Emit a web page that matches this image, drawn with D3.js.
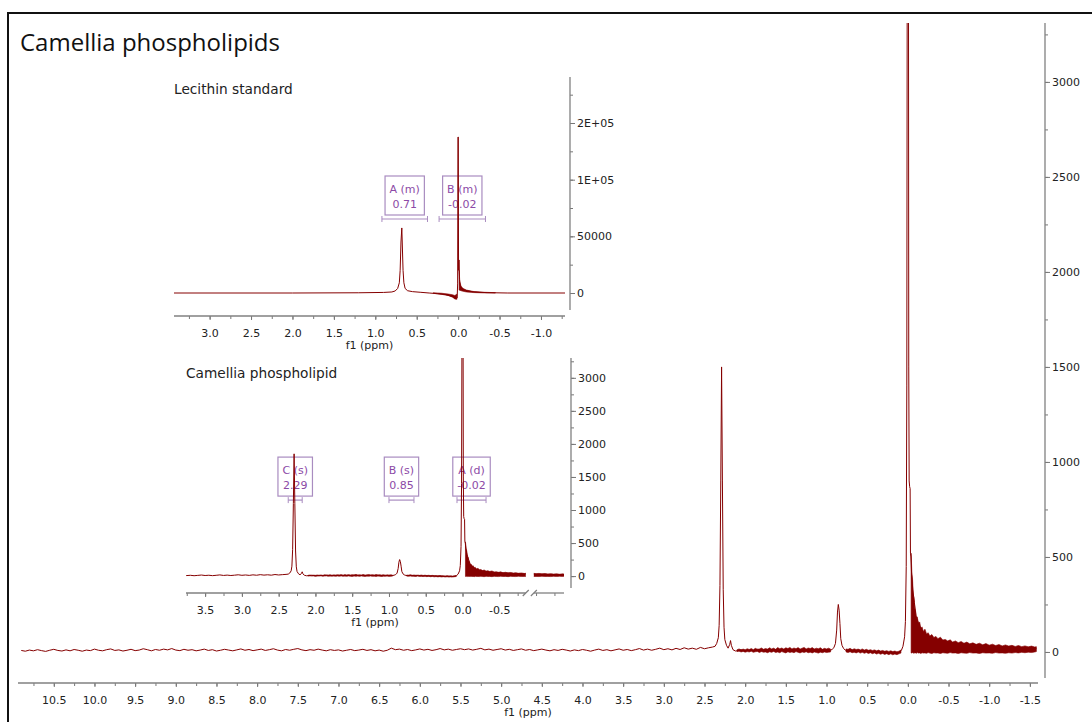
<!DOCTYPE html>
<html>
<head>
<meta charset="utf-8">
<script src="https://d3js.org/d3.v7.min.js"></script>
<style>
  body { margin: 0; background: #fff; }
  svg text { font-family: "DejaVu Sans", Verdana, sans-serif; }
  .tick text { fill: #222; font-size: 11px; }
  .tick line { stroke: #777; }
</style>
</head>
<body>
<div id="chart"></div>
<script>

// ---------- data ----------
var title = "Camellia phospholipids";
var insetTitles = ["Lecithin standard", "Camellia phospholipid"];

// tick labels
var mainXLabels = ["10.5","10.0","9.5","9.0","8.5","8.0","7.5","7.0","6.5","6.0","5.5","5.0","4.5","4.0","3.5","3.0","2.5","2.0","1.5","1.0","0.5","0.0","-0.5","-1.0","-1.5"];
var mainYLabels = ["0","500","1000","1500","2000","2500","3000"];
var lecXLabels = ["3.0","2.5","2.0","1.5","1.0","0.5","0.0","-0.5","-1.0"];
var lecYTicks = [0, 50000, 100000, 150000];
var lecYLabels = ["0","50000","1E+05","2E+05"];
var camXLabels = ["3.5","3.0","2.5","2.0","1.5","1.0","0.5","0.0","-0.5"];
var camYLabels = ["0","500","1000","1500","2000","2500","3000"];

// camellia spectrum [ppm, intensity] (main plot and lower inset), without the 2.29 peak
var camLine = [
  [10.90,8],[10.85,4],[10.80,10],[10.75,6],[10.70,12],[10.65,7],[10.60,3],[10.55,9],[10.50,14],[10.45,8],
  [10.40,5],[10.35,11],[10.30,6],[10.25,13],[10.20,9],[10.15,4],[10.10,10],[10.05,7],[10.00,15],[9.95,9],
  [9.90,6],[9.85,12],[9.80,16],[9.75,8],[9.70,11],[9.65,5],[9.60,9],[9.55,14],[9.50,7],[9.45,10],
  [9.40,17],[9.35,12],[9.30,6],[9.25,13],[9.20,9],[9.15,15],[9.10,11],[9.05,18],[9.00,10],[8.95,7],
  [8.90,14],[8.85,9],[8.80,12],[8.75,6],[8.70,10],[8.65,15],[8.60,8],[8.55,12],[8.50,5],[8.45,9],
  [8.40,14],[8.35,10],[8.30,6],[8.25,11],[8.20,16],[8.15,9],[8.10,13],[8.05,7],[8.00,11],[7.95,15],
  [7.90,8],[7.85,12],[7.80,17],[7.75,10],[7.70,6],[7.65,13],[7.60,9],[7.55,14],[7.50,18],[7.45,11],
  [7.40,7],[7.35,12],[7.30,9],[7.25,15],[7.20,10],[7.15,6],[7.10,12],[7.05,8],[7.00,11],[6.95,5],
  [6.90,9],[6.85,13],[6.80,7],[6.75,10],[6.70,14],[6.65,8],[6.60,12],[6.55,6],[6.50,10],[6.45,4],
  [6.40,9],[6.35,20],[6.30,12],[6.25,15],[6.20,9],[6.15,13],[6.10,7],[6.05,11],[6.00,16],[5.95,10],
  [5.90,14],[5.85,8],[5.80,12],[5.75,18],[5.70,11],[5.65,15],[5.60,9],[5.55,13],[5.50,17],[5.45,12],
  [5.40,16],[5.35,10],[5.30,14],[5.25,19],[5.20,11],[5.15,15],[5.10,9],[5.05,13],[5.00,17],[4.95,10],
  [4.90,14],[4.85,8],[4.80,12],[4.75,16],[4.70,9],[4.65,13],[4.60,7],[4.55,11],[4.50,15],[4.45,10],
  [4.40,6],[4.35,12],[4.30,8],[4.25,14],[4.20,10],[4.15,5],[4.10,11],[4.05,7],[4.00,13],[3.95,9],
  [3.90,4],[3.85,10],[3.80,15],[3.75,8],[3.70,12],[3.65,6],[3.60,11],[3.55,16],[3.50,9],[3.45,13],
  [3.40,7],[3.35,12],[3.30,18],[3.25,10],[3.20,15],[3.15,9],[3.10,14],[3.05,20],[3.00,12],[2.95,17],
  [2.90,11],[2.85,19],[2.80,13],[2.75,22],[2.70,15],[2.65,20],[2.60,14],[2.55,24],[2.50,17],[2.45,22],
  [2.40,26],
  [2.10,6],[2.05,12],[2.00,4],[1.95,10],[1.90,8],[1.85,14],[1.80,6],[1.75,12],[1.70,9],[1.65,15],
  [1.60,7],[1.55,13],[1.50,10],[1.45,16],[1.40,8],[1.35,12],[1.30,6],[1.25,13],[1.20,9],[1.15,14],
  [1.10,7],[1.05,11],[1.00,5],[0.95,9],
  // peak B
  [0.93,14],[0.91,22],[0.89,45],[0.875,115],[0.865,210],[0.855,250],[0.845,220],[0.835,150],[0.825,70],
  [0.81,35],[0.79,18],[0.77,10],
  [0.75,8],[0.70,12],[0.65,5],[0.60,10],[0.55,3],[0.50,7],[0.45,1],[0.40,5],[0.35,-3],[0.30,2],
  [0.25,-6],[0.20,-2],[0.15,-8],[0.12,-4],[0.10,0],[0.08,8],
  // peak A and tail
  [0.06,30],[0.04,80],[0.03,160],[0.02,450],[0.013,1400],[0.008,3500],[-0.008,3500],[-0.011,1500],
  [-0.016,900],[-0.022,870],[-0.028,860],[-0.032,520],[-0.038,500],[-0.045,420],[-0.06,330],[-0.08,260],
  [-0.1,190],[-0.14,140],[-0.2,95],[-0.3,70],[-0.4,58],[-0.5,50],[-0.6,44],[-0.7,40],[-0.8,36],
  [-0.9,32],[-1.0,30],[-1.1,27],[-1.2,25],[-1.3,22],[-1.4,21],[-1.5,19],[-1.58,18]
];
// the 2.29 peak, as drawn in the full view and in the inset
var mainPeakC = [
  [2.37,30],[2.35,45],[2.33,75],[2.32,140],[2.31,350],[2.30,900],[2.29,1500],[2.28,900],[2.27,330],
  [2.26,130],[2.25,65],[2.23,35],[2.21,20],[2.19,40],[2.18,60],[2.17,35],[2.15,12],[2.12,5]
];
var insetPeakC = [
  [2.37,30],[2.35,45],[2.33,80],[2.32,150],[2.31,400],[2.30,1100],[2.29,1850],[2.28,1100],[2.27,380],
  [2.26,140],[2.25,70],[2.23,35],[2.21,20],[2.19,40],[2.18,65],[2.17,35],[2.15,12],[2.12,5]
];

// dense-noise regions of the camellia spectrum [ppm, low, high]
var camBand = [
  [2.100,2,12],[2.075,4,16],[2.050,0,11],[2.025,3,15],[2.000,-1,12],[1.975,2,17],[1.950,0,13],
  [1.925,4,18],[1.900,-2,12],[1.875,1,19],[1.850,3,14],[1.825,-3,16],[1.800,2,21],[1.775,-1,14],
  [1.750,0,18],[1.725,-4,15],[1.700,1,22],[1.675,-2,16],[1.650,3,20],[1.625,-3,14],[1.600,0,23],
  [1.575,-4,17],[1.550,2,21],[1.525,-2,15],[1.500,-5,22],[1.475,1,18],[1.450,-3,24],[1.425,0,16],
  [1.400,-4,21],[1.375,2,17],[1.350,-2,23],[1.325,-5,15],[1.300,0,20],[1.275,-3,24],[1.250,1,16],
  [1.225,-4,21],[1.200,-1,18],[1.175,-5,23],[1.150,0,15],[1.125,-3,20],[1.100,-6,17],[1.075,-1,22],
  [1.050,-4,14],[1.025,0,19],[1.000,-3,16],[0.975,-1,20],[0.950,0,15]
];
var camBand2 = [
  [0.760,0,16],[0.735,-3,14],[0.710,1,19],[0.685,-4,12],[0.660,-1,17],[0.635,-5,13],[0.610,0,15],
  [0.585,-6,11],[0.560,-2,16],[0.535,-7,10],[0.510,-3,14],[0.485,-8,9],[0.460,-4,12],[0.435,-9,8],
  [0.410,-5,11],[0.385,-11,6],[0.360,-7,10],[0.335,-12,5],[0.310,-8,8],[0.285,-13,4],[0.260,-9,7],
  [0.235,-14,3],[0.210,-10,6],[0.185,-15,2],[0.160,-11,5],[0.135,-14,1],[0.110,-10,4],[0.085,-6,10]
];
var camTail = [
  [-0.040,-5,520],[-0.050,-6,410],[-0.058,-3,380],[-0.066,-7,300],[-0.075,-4,285],[-0.085,-6,230],
  [-0.095,-5,215],[-0.105,-7,175],[-0.115,-3,185],[-0.130,-6,150],[-0.145,-5,158],[-0.160,-8,125],
  [-0.175,-4,132],[-0.190,-6,108],[-0.210,-5,120],[-0.230,-7,95],[-0.250,-3,101],[-0.270,-6,84],
  [-0.295,-8,92],[-0.320,-4,76],[-0.345,-6,82],[-0.370,-5,70],[-0.400,-8,78],[-0.430,-4,63],
  [-0.460,-6,66],[-0.490,-7,58],[-0.520,-3,64],[-0.550,-6,52],[-0.585,-5,58],[-0.620,-8,49],
  [-0.655,-4,55],[-0.690,-6,46],[-0.725,-7,52],[-0.760,-3,43],[-0.800,-6,48],[-0.840,-5,40],
  [-0.880,-8,46],[-0.920,-4,38],[-0.960,-6,44],[-1.000,-5,36],[-1.040,-7,41],[-1.080,-3,34],
  [-1.120,-6,39],[-1.160,-5,32],[-1.200,-7,37],[-1.240,-4,31],[-1.280,-6,35],[-1.320,-3,29],
  [-1.360,-5,34],[-1.400,-2,28],[-1.440,-4,32],[-1.480,-1,27],[-1.520,-3,31],[-1.560,0,26],[-1.580,2,28]
];

// lecithin standard spectrum [ppm, intensity]
var lecLine = [
  [3.43,0],[2.0,0],[1.2,200],[0.9,500],[0.8,900],[0.76,1800],[0.73,4000],[0.71,9000],[0.70,20000],
  [0.69,45000],[0.68,57400],[0.675,45000],[0.665,20000],[0.655,9000],[0.64,4000],[0.61,2000],
  [0.55,1200],[0.45,600],[0.35,0],[0.25,-600],[0.15,-1500],[0.10,-2500],[0.06,-3500],[0.03,-5000],
  [0.012,-4400],[0.006,8000],[0.002,137600],[-0.002,137600],[-0.005,20000],[-0.008,29100],
  [-0.012,29100],[-0.016,12000],[-0.025,7000],[-0.04,4500],[-0.07,2800],[-0.10,2000],[-0.20,900],
  [-0.35,300],[-0.60,0],[-1.29,0]
];
var lecBand = [
  [0.30,-300,200],[0.20,-1200,-200],[0.12,-2200,-900],[0.07,-3600,-1500],[0.04,-5200,-2200],[0.015,-5600,-1000]
];
var lecTail = [
  [-0.012,2500,20000],[-0.02,2500,10000],[-0.035,2000,6000],[-0.06,1500,4000],[-0.10,900,2600],
  [-0.18,400,1400],[-0.30,100,700],[-0.45,0,300]
];

// integration annotations
var lecAnnots = [
  {name: "A (m)", shift: "0.71", from: 0.92, to: 0.37},
  {name: "B (m)", shift: "-0.02", from: 0.23, to: -0.33}
];
var camAnnots = [
  {name: "C (s)", shift: "2.29", from: 2.37, to: 2.18},
  {name: "B (s)", shift: "0.85", from: 1.00, to: 0.66},
  {name: "A (d)", shift: "-0.02", from: 0.075, to: -0.32}
];

// ---------- drawing ----------
var width = 1092, height = 722;
var specColor = "#850000", axisColor = "#808080";
var annColor = "#8c4aa6", boxColor = "#a98cc0";

function byPpm(a, b) { return b[0] - a[0]; }
var mainTrace = camLine.concat(mainPeakC).sort(byPpm);
var insetTrace = camLine.concat(insetPeakC).sort(byPpm);

var svg = d3.select("#chart").append("svg")
  .attr("width", width).attr("height", height);
var defs = svg.append("defs");

// frame
svg.append("path")
  .attr("d", "M8," + height + "V13H" + width)
  .attr("fill", "none").attr("stroke", "#111").attr("stroke-width", 2);

svg.append("text")
  .attr("x", 20).attr("y", 51)
  .style("font-family", "'Open Sans', 'Noto Sans', sans-serif")
  .style("font-size", "24px").attr("fill", "#111")
  .text(title);

// scales
var xMain = d3.scaleLinear().domain([10.94, -1.6]).range([18, 1038]);
var yMain = d3.scaleLinear().domain([-137, 3310]).range([678, 23]);
var x1 = d3.scaleLinear().domain([3.43, -1.29]).range([174, 565]);
var y1 = d3.scaleLinear().domain([-15000, 190600]).range([310, 77]);
var x2 = d3.scaleLinear().domain([3.76, -1.38]).range([186, 564]);
var y2 = d3.scaleLinear().domain([-180, 3300]).range([588, 358]);

function clip(id, x0, x1_, y0, y1_) {
  defs.append("clipPath").attr("id", id).append("rect")
    .attr("x", x0).attr("y", y0).attr("width", x1_ - x0).attr("height", y1_ - y0);
  return "url(#" + id + ")";
}

function xAxis(xs, yPos, labels, segs) {
  var vals = labels.map(function(d) { return +d; });
  var minor = d3.range(-12, 48).map(function(i) { return i / 4; })
    .filter(function(v) {
      return segs.some(function(s) { return v <= s[0] && v >= s[1]; });
    });
  svg.append("g").attr("transform", "translate(0," + yPos + ")")
    .call(d3.axisBottom(xs).tickValues(minor).tickSize(3).tickSizeOuter(0).tickFormat(""))
    .call(function(g) { g.select(".domain").remove(); });
  svg.append("g").attr("transform", "translate(0," + yPos + ")")
    .call(d3.axisBottom(xs).tickValues(vals).tickSize(4).tickPadding(9).tickSizeOuter(0)
      .tickFormat(function(d, i) { return labels[i]; }))
    .call(function(g) { g.select(".domain").remove(); });
  segs.forEach(function(s) {
    svg.append("line")
      .attr("x1", xs(s[0])).attr("x2", xs(s[1]))
      .attr("y1", yPos).attr("y2", yPos)
      .attr("stroke", axisColor).attr("stroke-width", 1.3);
  });
  var r = xs.range();
  svg.append("text")
    .attr("x", (r[0] + r[1]) / 2).attr("y", yPos + 29).attr("dy", "0.35em")
    .attr("text-anchor", "middle").attr("fill", "#222").style("font-size", "11px")
    .text("f1 (ppm)");
}

function yAxis(ys, xPos, tickVals, labels, step) {
  var d = ys.domain();
  var minor = d3.range(Math.ceil(d[0] / step), Math.floor(d[1] / step) + 1)
    .map(function(i) { return i * step; });
  svg.append("g").attr("transform", "translate(" + xPos + ",0)")
    .call(d3.axisRight(ys).tickValues(minor).tickSize(3).tickSizeOuter(0).tickFormat(""))
    .call(function(g) { g.select(".domain").remove(); });
  svg.append("g").attr("transform", "translate(" + xPos + ",0)")
    .call(d3.axisRight(ys).tickValues(tickVals).tickSize(5).tickPadding(2).tickSizeOuter(0)
      .tickFormat(function(v, i) { return labels[i]; }))
    .call(function(g) { g.select(".domain").remove(); });
  var r = ys.range();
  svg.append("line")
    .attr("x1", xPos).attr("x2", xPos).attr("y1", r[0]).attr("y2", r[1])
    .attr("stroke", axisColor).attr("stroke-width", 1.3);
}

function annotations(xs, ys, level, list) {
  var barY = ys(level);
  list.forEach(function(a) {
    var g = svg.append("g");
    var cx = (xs(a.from) + xs(a.to)) / 2;
    var top = barY - 43;
    var t1 = g.append("text").attr("x", cx).attr("y", top + 13).attr("dy", "0.35em")
      .attr("text-anchor", "middle").attr("fill", annColor).style("font-size", "11px").text(a.name);
    var t2 = g.append("text").attr("x", cx).attr("y", top + 28).attr("dy", "0.35em")
      .attr("text-anchor", "middle").attr("fill", annColor).style("font-size", "11px").text(a.shift);
    var w = Math.max(t1.node().getComputedTextLength(), t2.node().getComputedTextLength()) + 9;
    g.insert("rect", "text")
      .attr("x", cx - w / 2).attr("y", top).attr("width", w).attr("height", 39)
      .attr("fill", "none").attr("stroke", boxColor).attr("stroke-width", 1.2);
    g.append("line").attr("x1", xs(a.from)).attr("x2", xs(a.to))
      .attr("y1", barY).attr("y2", barY).attr("stroke", boxColor).attr("stroke-width", 1.2);
    [a.from, a.to].forEach(function(p) {
      g.append("line").attr("x1", xs(p)).attr("x2", xs(p))
        .attr("y1", barY - 3).attr("y2", barY + 3).attr("stroke", boxColor);
    });
  });
}

function spectrum(xs, ys, line, bands, clipUrl) {
  var g = svg.append("g").attr("clip-path", clipUrl);
  var area = d3.area()
    .x(function(d) { return xs(d[0]); })
    .y0(function(d) { return ys(d[1]); })
    .y1(function(d) { return ys(d[2]); });
  bands.forEach(function(b) {
    g.append("path").datum(b).attr("d", area)
      .attr("fill", specColor).attr("stroke", specColor).attr("stroke-width", 0.6);
  });
  g.append("path").datum(line)
    .attr("d", d3.line()
      .x(function(d) { return xs(d[0]); })
      .y(function(d) { return ys(d[1]); }))
    .attr("fill", "none").attr("stroke", specColor).attr("stroke-width", 1);
}

// ----- main plot -----
xAxis(xMain, 683, mainXLabels, [[10.94, -1.6]]);
yAxis(yMain, 1045, mainYLabels.map(Number), mainYLabels, 250);
spectrum(xMain, yMain, mainTrace, [camBand, camBand2, camTail], clip("cMain", 18, 1038, 23, 678));

// ----- inset 1: lecithin standard -----
svg.append("text").attr("x", 174).attr("y", 89).attr("dy", "0.35em")
  .attr("fill", "#222").style("font-size", "13.7px").text(insetTitles[0]);
xAxis(x1, 316, lecXLabels, [[3.43, -1.29]]);
yAxis(y1, 570, lecYTicks, lecYLabels, 25000);
annotations(x1, y1, 65300, lecAnnots);
spectrum(x1, y1, lecLine, [lecBand, lecTail], clip("cLec", 174, 565, 77, 310));

// ----- inset 2: camellia phospholipid -----
svg.append("text").attr("x", 186).attr("y", 373).attr("dy", "0.35em")
  .attr("fill", "#222").style("font-size", "13.7px").text(insetTitles[1]);
xAxis(x2, 593, camXLabels, [[3.76, -0.86], [-0.97, -1.38]]);
// axis break marks
[-0.86, -0.97].forEach(function(p) {
  svg.append("line")
    .attr("x1", x2(p) - 3).attr("x2", x2(p) + 3)
    .attr("y1", 596).attr("y2", 590)
    .attr("stroke", axisColor).attr("stroke-width", 1.2);
});
yAxis(y2, 571, camYLabels.map(Number), camYLabels, 250);
annotations(x2, y2, 1150, camAnnots);
spectrum(x2, y2, insetTrace, [camBand, camBand2, camTail], clip("cCamL", 186, x2(-0.86), 358, 588));
spectrum(x2, y2, insetTrace, [camBand, camBand2, camTail], clip("cCamR", x2(-0.97), 564, 358, 588));

</script>
</body>
</html>
